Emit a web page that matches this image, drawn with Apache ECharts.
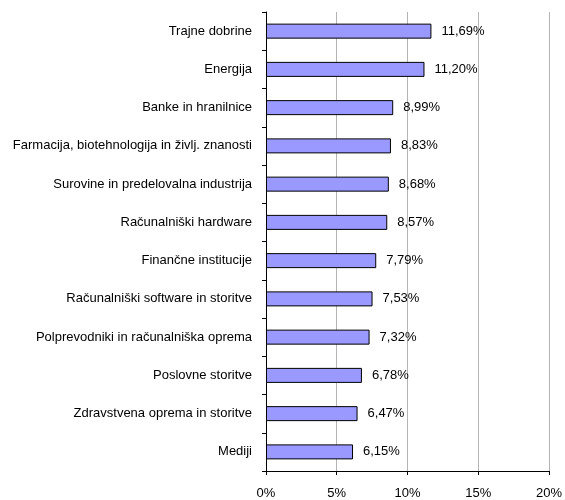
<!DOCTYPE html>
<html>
<head>
<meta charset="utf-8">
<script src="https://cdn.jsdelivr.net/npm/echarts@6/dist/echarts.min.js"></script>
<style>
  html, body { margin: 0; padding: 0; background: #fff; }
  #myChart { width: 565px; height: 500px; }
</style>
</head>
<body>
<div id="myChart"></div>
<script>
// top to bottom as in the picture
var categories = [
    "Trajne dobrine",
    "Energija",
    "Banke in hranilnice",
    "Farmacija, biotehnologija in življ. znanosti",
    "Surovine in predelovalna industrija",
    "Računalniški hardware",
    "Finančne institucije",
    "Računalniški software in storitve",
    "Polprevodniki in računalniška oprema",
    "Poslovne storitve",
    "Zdravstvena oprema in storitve",
    "Mediji",
];
var values = [11.69, 11.2, 8.99, 8.83, 8.68, 8.57, 7.79, 7.53, 7.32, 6.78, 6.47, 6.15];
var xTicks = [0, 5, 10, 15, 20];

var myChart = echarts.init(document.getElementById("myChart"));
var font = "Liberation Sans, Arial, sans-serif";

var option = {
    animation: false,
    grid: {
        left: 266,
        right: 15,
        top: 12,
        bottom: 28,
    },
    xAxis: {
        type: "value",
        min: xTicks[0],
        max: xTicks[xTicks.length - 1],
        interval: 5,
        axisLine: { show: true, lineStyle: { color: "#000", width: 1 } },
        axisTick: { show: true, length: 4, lineStyle: { color: "#000" } },
        splitLine: { show: true, lineStyle: { color: "#b4b4b4", width: 1 } },
        axisLabel: {
            color: "#000",
            fontFamily: font,
            fontSize: 13,
            margin: 16,
            formatter: (v) => v + "%",
        },
    },
    yAxis: {
        type: "category",
        inverse: true,
        data: categories,
        axisLine: { show: true, lineStyle: { color: "#000", width: 1 } },
        axisTick: { show: true, length: 4, inside: false, lineStyle: { color: "#000" } },
        axisLabel: {
            color: "#000",
            fontFamily: font,
            fontSize: 13,
            margin: 14,
        },
    },
    series: [
        {
            type: "bar",
            data: values,
            barWidth: 15,
            itemStyle: {
                color: "#9999ff",
                borderColor: "#000",
                borderWidth: 1,
            },
            label: {
                show: true,
                position: "right",
                distance: 10,
                color: "#000",
                fontFamily: font,
                fontSize: 13,
                formatter: (p) => p.value.toFixed(2).replace(".", ",") + "%",
            },
        },
    ],
};
myChart.setOption(option);
</script>
</body>
</html>
